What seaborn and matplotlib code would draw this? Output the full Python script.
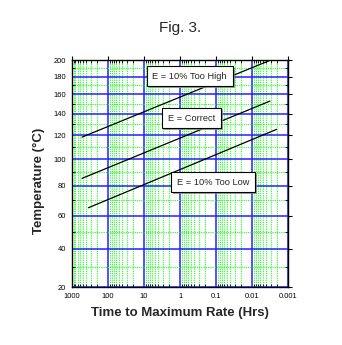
import numpy as np
import pandas as pd
import matplotlib
matplotlib.use("Agg")
import matplotlib.pyplot as plt
import matplotlib.patheffects as pe
from matplotlib.ticker import FixedLocator, NullFormatter
import seaborn as sns

# ---- data ----
high_time = [525, 0.0032]
high_temp = [118.6, 200.0]
correct_time = [525, 0.0032]
correct_temp = [85.4, 153.0]
low_time = [350, 0.0021]
low_temp = [65.0, 125.5]

series_labels = ["E = 10% Too High", "E = Correct", "E = 10% Too Low"]
label_pos_time = [0.54, 0.49, 0.124]
label_pos_temp = [180.7, 136.0, 82.7]

x_major = [1000, 100, 10, 1, 0.1, 0.01, 0.001]
x_major_labels = ["1000", "100", "10", "1", "0.1", "0.01", "0.001"]
y_major = [20, 40, 60, 80, 100, 120, 140, 160, 180, 200]
y_minor = [30, 50, 70, 90, 110, 130, 150, 170, 190]

sns.set_style("white")
plt.rcParams["font.family"] = ["Liberation Sans", "DejaVu Sans"]

fig = plt.figure(figsize=(3.42, 3.45), dpi=100)
ax = fig.add_axes([0.2105, 0.168, 0.632, 0.657])

df = pd.concat([
    pd.DataFrame({"time": high_time, "temp": high_temp, "s": series_labels[0]}),
    pd.DataFrame({"time": correct_time, "temp": correct_temp, "s": series_labels[1]}),
    pd.DataFrame({"time": low_time, "temp": low_temp, "s": series_labels[2]}),
])

def fwd(t):
    return -1.0 / (np.asarray(t, dtype=float) + 273.15)

def inv(u):
    return -1.0 / np.asarray(u, dtype=float) - 273.15

ax.set_xscale("log")
ax.set_yscale("function", functions=(fwd, inv))

sns.lineplot(data=df, x="time", y="temp", hue="s", units="s", estimator=None,
             palette=["black"] * 3, linewidth=0.9, legend=False, ax=ax, zorder=5,
             sort=False)

ax.set_xlim(1000, 0.001)
ax.set_ylim(20, 200)

x_minor = [m * d for d in [0.001, 0.01, 0.1, 1, 10, 100] for m in range(2, 10)]
ax.set_xticks(x_major)
ax.set_xticklabels(x_major_labels)
ax.xaxis.set_minor_locator(FixedLocator(x_minor))
ax.xaxis.set_minor_formatter(NullFormatter())
ax.set_yticks(y_major)
ax.set_yticklabels([str(v) for v in y_major])
ax.yaxis.set_minor_locator(FixedLocator(y_minor))
ax.yaxis.set_minor_formatter(NullFormatter())

ax.grid(True, which="minor", color="#22ff22", linestyle=(0, (1, 1)), linewidth=0.8)
ax.grid(True, which="major", color="#2222ff", linestyle="-", linewidth=1.1)
ax.set_axisbelow(True)

ax.tick_params(axis="both", which="major", direction="out", length=3, width=0.8,
               labelsize=5.4, pad=1.5, colors="black")
ax.tick_params(axis="both", which="minor", direction="in", length=2, width=0.6,
               color="black", top=True, right=True, bottom=True, left=True)
ax.tick_params(axis="both", which="major", top=True, right=True)

for sp in ax.spines.values():
    sp.set_color("black")
    sp.set_linewidth(1.0)

for lab, tx, ty in zip(series_labels, label_pos_time, label_pos_temp):
    t = ax.text(tx, ty, lab, ha="center", va="center", fontsize=6.7, zorder=10,
                bbox=dict(boxstyle="square,pad=0.62", facecolor="white",
                          edgecolor="black", linewidth=0.8))
    t.get_bbox_patch().set_path_effects([
        pe.SimplePatchShadow(offset=(1.5, -1.5), shadow_rgbFace="#888888", alpha=0.8),
        pe.Normal()])

ax.set_xlabel("Time to Maximum Rate (Hrs)", fontsize=9.5, fontweight="bold")
ax.xaxis.set_label_coords(0.5, -0.09)
ax.set_ylabel("Temperature (°C)", fontsize=9.5, fontweight="bold")
ax.yaxis.set_label_coords(-0.125, 0.47)
fig.text(0.526, 0.92, "Fig. 3.", ha="center", va="center", fontsize=11)

fig.savefig("out.png", dpi=100)
